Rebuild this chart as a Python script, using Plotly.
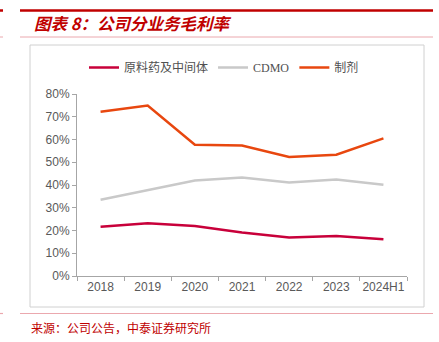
import plotly.graph_objects as go

# Gross margin by business segment
years = ["2018", "2019", "2020", "2021", "2022", "2023", "2024H1"]
api_margin = [0.217, 0.232, 0.220, 0.191, 0.169, 0.176, 0.162]     # 原料药及中间体
cdmo_margin = [0.335, 0.376, 0.420, 0.433, 0.411, 0.424, 0.401]    # CDMO
form_margin = [0.722, 0.749, 0.577, 0.574, 0.523, 0.533, 0.605]    # 制剂

series_names = ["原料药及中间体", "CDMO", "制剂"]
series_colors = ["#C8003A", "#C9C9C9", "#E8470F"]

W, H = 439, 342
L, R, T, B = 77, 32, 94, 66

def px_x(x):
    return (x - L) / (W - L - R)

def px_y(y):
    return (H - B - y) / (H - T - B)

fig = go.Figure()
for name, vals, col in zip(series_names, [api_margin, cdmo_margin, form_margin], series_colors):
    fig.add_trace(go.Scatter(
        x=years, y=vals, name=name, mode="lines",
        line=dict(color=col, width=2.5),
    ))

red = "#C00000"
pink = "#EBA8AE"
shapes = [
    # top rule and title underline
    dict(type="line", x0=px_x(20), x1=px_x(433), y0=px_y(10.5), y1=px_y(10.5), line=dict(color=red, width=2.5)),
    dict(type="line", x0=px_x(0), x1=px_x(3), y0=px_y(10.5), y1=px_y(10.5), line=dict(color=red, width=2.5)),
    dict(type="line", x0=px_x(20), x1=px_x(433), y0=px_y(37), y1=px_y(37), line=dict(color=pink, width=1)),
    dict(type="line", x0=px_x(0), x1=px_x(3), y0=px_y(37), y1=px_y(37), line=dict(color=pink, width=1)),
    # chart frame
    dict(type="rect", x0=px_x(30), x1=px_x(424), y0=px_y(307), y1=px_y(45), line=dict(color="#D0D0D0", width=1)),
    # bottom rule
    dict(type="line", x0=px_x(20), x1=px_x(433), y0=px_y(313.5), y1=px_y(313.5), line=dict(color=pink, width=1.2)),
    dict(type="line", x0=px_x(0), x1=px_x(3), y0=px_y(313.5), y1=px_y(313.5), line=dict(color=pink, width=1.2)),
]
for s in shapes:
    s.update(xref="paper", yref="paper", layer="below")

annotations = [
    dict(text="<b><i>图表 8：公司分业务毛利率</i></b>", x=px_x(32), y=px_y(23), xanchor="left", yanchor="middle",
         showarrow=False, font=dict(family="Noto Sans CJK SC", size=16.5, color=red)),
    dict(text="来源：公司公告，中泰证券研究所", x=px_x(29), y=px_y(327), xanchor="left", yanchor="middle",
         showarrow=False, font=dict(family="Noto Sans CJK SC", size=12, color=red)),
]
for a in annotations:
    a.update(xref="paper", yref="paper")

fig.update_layout(
    width=W, height=H,
    margin=dict(l=L, r=R, t=T, b=B),
    paper_bgcolor="white", plot_bgcolor="white",
    showlegend=True,
    legend=dict(orientation="h", x=px_x(84), y=px_y(53), xanchor="left", yanchor="top",
                font=dict(family="Liberation Serif, Noto Sans CJK SC", size=12, color="#505050"),
                itemwidth=30, tracegroupgap=0, bgcolor="rgba(0,0,0,0)"),
    xaxis=dict(range=[-0.5, 6.5], showgrid=False, showline=True, linecolor="#A6A6A6", linewidth=1,
               ticks="outside", tickson="boundaries", ticklen=4, tickcolor="#A6A6A6", tickangle=0,
               tickfont=dict(family="Liberation Sans", size=12, color="#595959"), fixedrange=True),
    yaxis=dict(range=[0, 0.8], dtick=0.1, tickformat=".0%", showgrid=False, zeroline=False,
               showline=True, linecolor="#A6A6A6", linewidth=1, ticks="outside", ticklen=4,
               tickcolor="#A6A6A6", tickfont=dict(family="Liberation Sans", size=12, color="#595959"),
               fixedrange=True),
    shapes=shapes, annotations=annotations,
)

fig.write_html("out.html")
